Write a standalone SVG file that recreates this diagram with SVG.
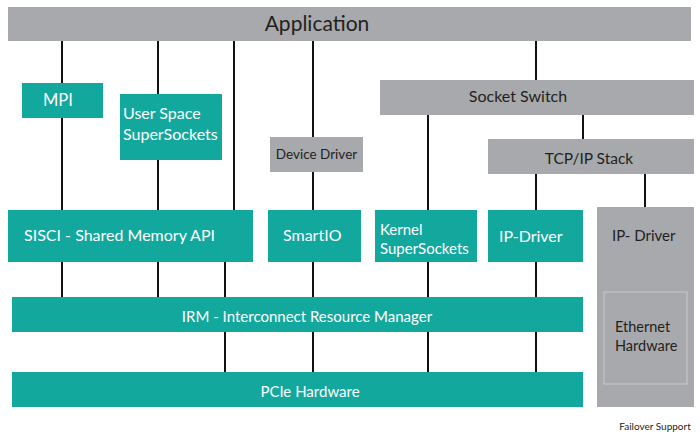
<svg xmlns="http://www.w3.org/2000/svg" width="700" height="436" viewBox="0 0 700 436">
<style>
.teal{fill:#13a89e}
.gray{fill:#a7a9ac}
.tw{fill:#ffffff;font-family:Lato,"Noto Sans",sans-serif;font-size:15px}
.tb{fill:#231f20;font-family:Lato,"Noto Sans",sans-serif;font-size:14px}
.ln{stroke:#111;stroke-width:2;fill:none}
</style>
<rect width="700" height="436" fill="#fff"/>
<g id="connectors">
<path class="ln" d="M62 41V83M62 118V210M62 262V297"/>
<path class="ln" d="M158 41V94M158 160V210M158 262V297"/>
<path class="ln" d="M234 41V210"/>
<path class="ln" d="M225 262V297M225 332V372"/>
<path class="ln" d="M313 41V137M313 172V210M313 262V297M313 332V372"/>
<path class="ln" d="M536 41V80"/>
<path class="ln" d="M428 115V210M428 262V297M428 332V372"/>
<path class="ln" d="M583 115V139"/>
<path class="ln" d="M536 174V210M536 262V297M536 332V372"/>
<path class="ln" d="M645 174V207"/>
</g>
<g id="application"><rect class="gray" x="8" y="7" width="683" height="34"/><text x="317" y="31" text-anchor="middle" class="tb" style="font-size:21px">Application</text></g>
<g id="mpi"><rect class="teal" x="22" y="83" width="81" height="35"/><text x="43" y="106" class="tw" style="font-size:16.5px">MPI</text></g>
<g id="userspace"><rect class="teal" x="120" y="94" width="102" height="66"/><text x="123" y="119" class="tw" style="font-size:16px">User Space</text><text x="123" y="140" class="tw" style="font-size:16px">SuperSockets</text></g>
<g id="devicedriver"><rect class="gray" x="270" y="137" width="93" height="35"/><text x="316.5" y="159" text-anchor="middle" class="tb" style="font-size:13.5px">Device Driver</text></g>
<g id="socketswitch"><rect class="gray" x="380" y="80" width="314" height="35"/><text x="518" y="102" text-anchor="middle" class="tb" style="font-size:16px">Socket Switch</text></g>
<g id="tcpip"><rect class="gray" x="488" y="139" width="206" height="35"/><text x="589" y="164" text-anchor="middle" class="tb" style="font-size:15.5px">TCP/IP Stack</text></g>
<g id="sisci"><rect class="teal" x="8" y="210" width="245" height="52"/><text x="24" y="241" class="tw" style="font-size:16px">SISCI - Shared Memory API</text></g>
<g id="smartio"><rect class="teal" x="268" y="210" width="93" height="52"/><text x="283" y="241" class="tw" style="font-size:16px">SmartIO</text></g>
<g id="kernel"><rect class="teal" x="375" y="210" width="102" height="52"/><text x="380" y="235" class="tw">Kernel</text><text x="380" y="254" class="tw">SuperSockets</text></g>
<g id="ipdriver"><rect class="teal" x="488" y="210" width="95" height="52"/><text x="499" y="242" class="tw" style="font-size:16px">IP-Driver</text></g>
<g id="ipdriver2"><rect class="gray" x="597" y="207" width="97" height="200"/><text x="612" y="241" class="tb" style="font-size:15px">IP- Driver</text><rect x="604" y="292" width="83" height="92" fill="none" stroke="#c9cacc" stroke-width="1"/><text x="615" y="332" class="tb" style="font-size:14.5px">Ethernet</text><text x="615" y="351" class="tb" style="font-size:14.5px">Hardware</text></g>
<g id="irm"><rect class="teal" x="12" y="297" width="571" height="35"/><text x="307" y="322" text-anchor="middle" class="tw">IRM - Interconnect Resource Manager</text></g>
<g id="pcie"><rect class="teal" x="12" y="372" width="571" height="35"/><text x="310" y="397" text-anchor="middle" class="tw">PCIe Hardware</text></g>
<text x="655" y="430" text-anchor="middle" class="tb" style="font-size:10px">Failover Support</text>
</svg>
